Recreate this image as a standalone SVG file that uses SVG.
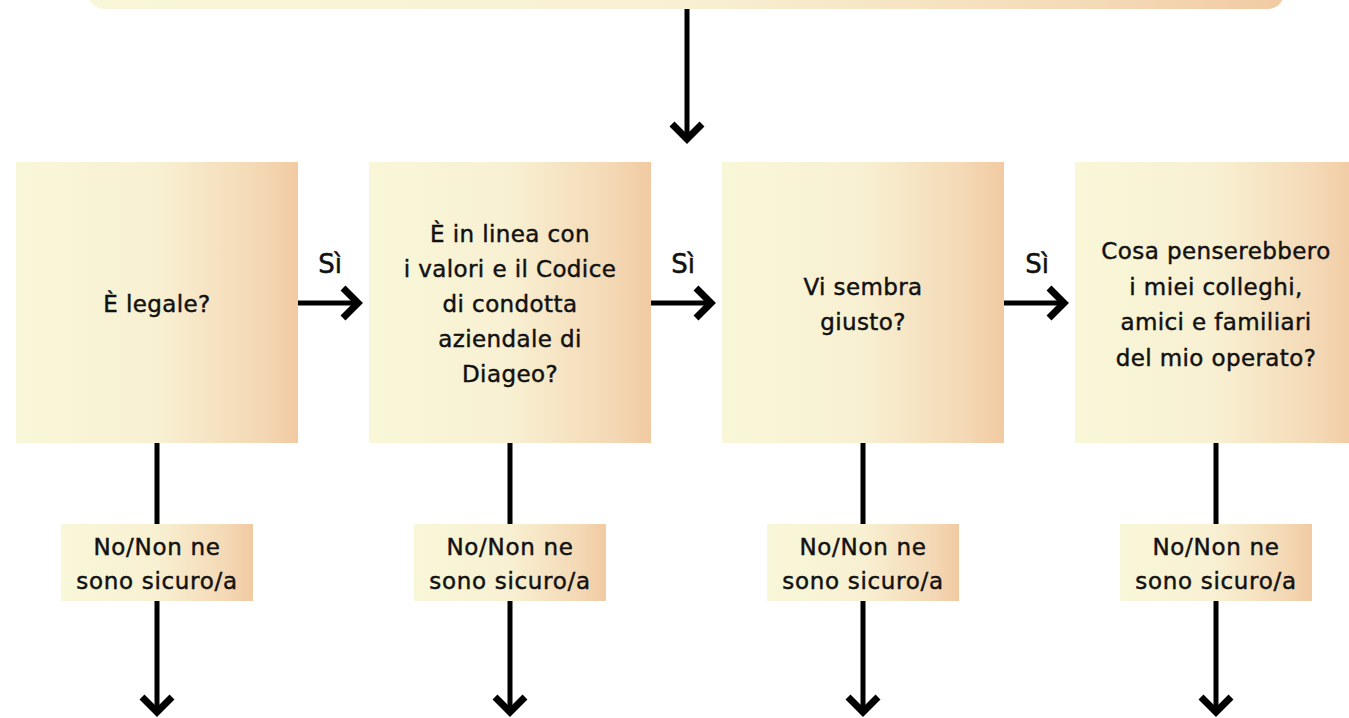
<svg xmlns="http://www.w3.org/2000/svg" width="1349" height="718" viewBox="0 0 1349 718">
  <defs>
    <linearGradient id="g" x1="0" y1="0" x2="1" y2="0">
      <stop offset="0" stop-color="#F9F7D9"/>
      <stop offset="0.5" stop-color="#F8F0D2"/>
      <stop offset="0.85" stop-color="#F4D9B6"/>
      <stop offset="1" stop-color="#F1CAA2"/>
    </linearGradient>
    <style>
      .box { fill: url(#g); }
      .t { font-family: "DejaVu Sans", "Noto Sans", sans-serif; font-size: 23px; fill: #111; stroke: #111; stroke-width: 0.45; text-anchor: middle; letter-spacing: 0.4px; }
      .lt { font-family: "DejaVu Sans", "Noto Sans", sans-serif; font-size: 23px; fill: #111; stroke: #111; stroke-width: 0.45; text-anchor: middle; letter-spacing: 0.7px; }
      .si { font-family: "DejaVu Sans", "Noto Sans", sans-serif; font-size: 26px; fill: #111; stroke: #111; stroke-width: 0.5; text-anchor: middle; }
      .shaft { stroke: #000; stroke-width: 5; fill: none; }
      .head { stroke: #000; stroke-width: 7; fill: none; stroke-linejoin: miter; stroke-miterlimit: 10; }
    </style>
  </defs>
  <rect width="1349" height="718" fill="#fff"/>

  <g id="top">
    <rect class="box" x="88" y="-30" width="1196" height="39" rx="16"/>
  </g>

  <g id="connectors">
    <line class="shaft" x1="687" y1="9" x2="687" y2="138"/>
    <polyline class="head" points="672,124 687,139 702,124"/>
    <line class="shaft" x1="298" y1="303" x2="356" y2="303"/>
    <polyline class="head" points="343,288 358,303 343,318"/>
    <line class="shaft" x1="651" y1="303" x2="709" y2="303"/>
    <polyline class="head" points="696,288 711,303 696,318"/>
    <line class="shaft" x1="1004" y1="303" x2="1062" y2="303"/>
    <polyline class="head" points="1049,288 1064,303 1049,318"/>
    <line class="shaft" x1="157" y1="443" x2="157" y2="711"/>
    <polyline class="head" points="142,697 157,712 172,697"/>
    <line class="shaft" x1="510" y1="443" x2="510" y2="711"/>
    <polyline class="head" points="495,697 510,712 525,697"/>
    <line class="shaft" x1="863" y1="443" x2="863" y2="711"/>
    <polyline class="head" points="848,697 863,712 878,697"/>
    <line class="shaft" x1="1216" y1="443" x2="1216" y2="711"/>
    <polyline class="head" points="1201,697 1216,712 1231,697"/>
    <text class="si" x="330" y="273">Sì</text>
    <text class="si" x="683" y="273">Sì</text>
    <text class="si" x="1037" y="273">Sì</text>
  </g>

  <g id="q1">
    <rect class="box" x="16" y="162" width="282" height="281"/>
    <text class="t" x="157" y="312">È legale?</text>
  </g>
  <g id="q2">
    <rect class="box" x="369" y="162" width="282" height="281"/>
    <text class="t" x="510" y="242">È in linea con</text>
    <text class="t" x="510" y="277">i valori e il Codice</text>
    <text class="t" x="510" y="312">di condotta</text>
    <text class="t" x="510" y="347">aziendale di</text>
    <text class="t" x="510" y="382">Diageo?</text>
  </g>
  <g id="q3">
    <rect class="box" x="722" y="162" width="282" height="281"/>
    <text class="t" x="863" y="295">Vi sembra</text>
    <text class="t" x="863" y="330">giusto?</text>
  </g>
  <g id="q4">
    <rect class="box" x="1075" y="162" width="282" height="281"/>
    <text class="t" x="1216" y="259">Cosa penserebbero</text>
    <text class="t" x="1216" y="295">i miei colleghi,</text>
    <text class="t" x="1216" y="330">amici e familiari</text>
    <text class="t" x="1216" y="366">del mio operato?</text>
  </g>

  <g id="n1">
    <rect class="box" x="61" y="524" width="192" height="77"/>
    <text class="lt" x="157" y="555">No/Non ne</text>
    <text class="lt" x="157" y="589">sono sicuro/a</text>
  </g>
  <g id="n2">
    <rect class="box" x="414" y="524" width="192" height="77"/>
    <text class="lt" x="510" y="555">No/Non ne</text>
    <text class="lt" x="510" y="589">sono sicuro/a</text>
  </g>
  <g id="n3">
    <rect class="box" x="767" y="524" width="192" height="77"/>
    <text class="lt" x="863" y="555">No/Non ne</text>
    <text class="lt" x="863" y="589">sono sicuro/a</text>
  </g>
  <g id="n4">
    <rect class="box" x="1120" y="524" width="192" height="77"/>
    <text class="lt" x="1216" y="555">No/Non ne</text>
    <text class="lt" x="1216" y="589">sono sicuro/a</text>
  </g>
</svg>
